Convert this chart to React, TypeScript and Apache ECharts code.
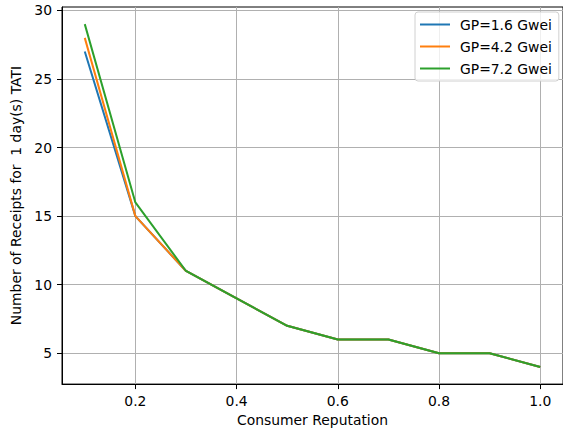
import React, { useEffect, useRef } from "react";
import * as echarts from "echarts";

const reputation = [0.1, 0.2, 0.3, 0.4, 0.5, 0.6, 0.7, 0.8, 0.9, 1.0];
const gp16 = [27, 15, 11, 9, 7, 6, 6, 5, 5, 4];
const gp42 = [28, 15, 11, 9, 7, 6, 6, 5, 5, 4];
const gp72 = [29, 16, 11, 9, 7, 6, 6, 5, 5, 4];
const seriesNames = ["GP=1.6 Gwei", "GP=4.2 Gwei", "GP=7.2 Gwei"];
const seriesColors = ["#1f77b4", "#ff7f0e", "#2ca02c"];
const xTicks = [0.2, 0.4, 0.6, 0.8, 1.0];
const yTicks = [5, 10, 15, 20, 25, 30];

const FONT = "DejaVu Sans";
const FS = 13.9;

export default function App() {
  const ref = useRef<HTMLDivElement>(null);
  useEffect(() => {
    if (!ref.current) return;
    const chart = echarts.init(ref.current, null, { renderer: "svg" });
    const all = [gp16, gp42, gp72];
    chart.setOption({
      animation: false,
      backgroundColor: "#ffffff",
      grid: {
        left: 62,
        top: 7,
        right: -3,
        bottom: 47,
        show: true,
        borderColor: "#000",
        borderWidth: 1,
        containLabel: false,
      },
      legend: {
        orient: "vertical",
        left: 415,
        top: 12,
        data: seriesNames,
        icon: "rect",
        itemWidth: 30,
        itemHeight: 2,
        itemGap: 5,
        backgroundColor: "rgba(255,255,255,0.8)",
        borderColor: "#d0d0d0",
        borderWidth: 1,
        borderRadius: 3,
        padding: [4, 7, 4, 5],
        textStyle: {
          fontFamily: FONT,
          fontSize: FS,
          lineHeight: 17,
          color: "#000",
          padding: [0, 0, 0, 5],
        },
      },
      xAxis: {
        type: "value",
        min: 0.055,
        max: 1.045,
        name: "Consumer Reputation",
        nameLocation: "middle",
        nameGap: 27,
        nameTextStyle: { fontFamily: FONT, fontSize: FS, color: "#000" },
        axisLine: { show: true, lineStyle: { color: "#000", width: 1 } },
        axisTick: { show: true, inside: false, length: 5, customValues: xTicks, lineStyle: { color: "#000" } },
        axisLabel: {
          customValues: xTicks,
          fontFamily: FONT,
          fontSize: FS,
          color: "#000",
          margin: 10,
          formatter: (v: number) => v.toFixed(1),
        },
        splitLine: { show: true, lineStyle: { color: "#b0b0b0", width: 1 } },
      },
      yAxis: {
        type: "value",
        min: 2.75,
        max: 30.25,
        name: "Number of Receipts for  1 day(s) TATI",
        nameLocation: "middle",
        nameGap: 32,
        nameTextStyle: { fontFamily: FONT, fontSize: FS, color: "#000" },
        axisLine: { show: true, lineStyle: { color: "#000", width: 1 } },
        axisTick: { show: true, inside: false, length: 5, customValues: yTicks, lineStyle: { color: "#000" } },
        axisLabel: {
          customValues: yTicks,
          fontFamily: FONT,
          fontSize: FS,
          color: "#000",
          margin: 10,
        },
        splitLine: { show: true, lineStyle: { color: "#b0b0b0", width: 1 } },
      },
      series: all.map((vals, i) => ({
        name: seriesNames[i],
        type: "line",
        data: reputation.map((x, j) => [x, vals[j]]),
        showSymbol: false,
        symbol: "none",
        lineStyle: { color: seriesColors[i], width: 2 },
        itemStyle: { color: seriesColors[i] },
        z: 2 + i,
      })),
    });
    return () => chart.dispose();
  }, []);
  return <div ref={ref} style={{ width: 563, height: 432, position: "absolute", left: 0, top: 0 }} />;
}
